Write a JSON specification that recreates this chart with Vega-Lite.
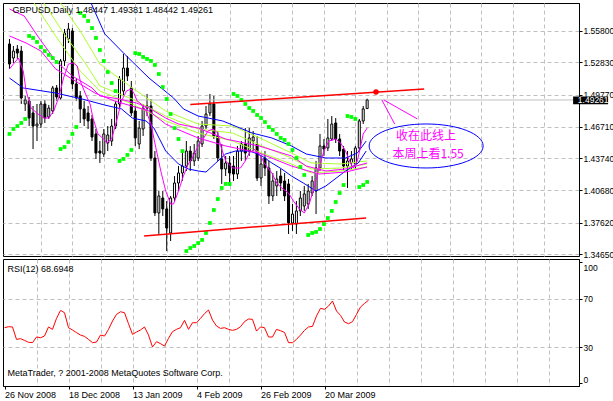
{
"$schema": "https://vega.github.io/schema/vega-lite/v6.json",
"background": "white",
"padding": {"left": 2, "top": 2, "right": 0, "bottom": 0},
"bounds": "flush",
"spacing": 3,
"config": {
 "view": {"stroke": "black", "strokeWidth": 1},
 "axis": {"labelFont": "Liberation Sans", "labelFontSize": 8.5, "labelColor": "black", "tickColor": "black", "domainColor": "black", "gridColor": "#c0c0c0", "gridDash": [4, 3], "title": null, "zindex": 0, "labelOverlap": false, "tickCount": 60},
 "text": {"font": "Liberation Sans"}
},
"resolve": {"scale": {"x": "independent", "y": "independent"}},
"datasets": {
 "one": [{}],
 "candles": [
{"i":0,"o":1.5457,"h":1.5504,"l":1.5220,"c":1.5267},
{"i":1,"o":1.5324,"h":1.5438,"l":1.5277,"c":1.5390},
{"i":2,"o":1.5409,"h":1.5447,"l":1.5315,"c":1.5371},
{"i":3,"o":1.5390,"h":1.5438,"l":1.4888,"c":1.4945},
{"i":4,"o":1.4888,"h":1.4964,"l":1.4822,"c":1.4926},
{"i":5,"o":1.4916,"h":1.4954,"l":1.4679,"c":1.4755},
{"i":6,"o":1.4803,"h":1.4869,"l":1.4461,"c":1.4679},
{"i":7,"o":1.4679,"h":1.4888,"l":1.4537,"c":1.4698},
{"i":8,"o":1.4698,"h":1.4916,"l":1.4660,"c":1.4888},
{"i":9,"o":1.4888,"h":1.4926,"l":1.4708,"c":1.4755},
{"i":10,"o":1.4765,"h":1.4879,"l":1.4746,"c":1.4850},
{"i":11,"o":1.4822,"h":1.5059,"l":1.4793,"c":1.5040},
{"i":12,"o":1.5040,"h":1.5068,"l":1.4916,"c":1.4954},
{"i":13,"o":1.4945,"h":1.5315,"l":1.4926,"c":1.5296},
{"i":14,"o":1.5296,"h":1.5599,"l":1.5248,"c":1.5561},
{"i":15,"o":1.5504,"h":1.5656,"l":1.5466,"c":1.5599},
{"i":16,"o":1.5580,"h":1.5608,"l":1.5030,"c":1.5078},
{"i":17,"o":1.5078,"h":1.5125,"l":1.4916,"c":1.4945},
{"i":18,"o":1.4964,"h":1.5011,"l":1.4708,"c":1.4841},
{"i":19,"o":1.4841,"h":1.4916,"l":1.4679,"c":1.4746},
{"i":20,"o":1.4803,"h":1.4869,"l":1.4651,"c":1.4727},
{"i":21,"o":1.4746,"h":1.4784,"l":1.4537,"c":1.4575},
{"i":22,"o":1.4604,"h":1.4651,"l":1.4367,"c":1.4423},
{"i":23,"o":1.4442,"h":1.4537,"l":1.4329,"c":1.4423},
{"i":24,"o":1.4414,"h":1.4651,"l":1.4386,"c":1.4604},
{"i":25,"o":1.4518,"h":1.4679,"l":1.4442,"c":1.4594},
{"i":26,"o":1.4537,"h":1.4746,"l":1.4490,"c":1.4679},
{"i":27,"o":1.4679,"h":1.4916,"l":1.4651,"c":1.4888},
{"i":28,"o":1.4888,"h":1.5153,"l":1.4841,"c":1.5125},
{"i":29,"o":1.5011,"h":1.5362,"l":1.4964,"c":1.5229},
{"i":30,"o":1.5229,"h":1.5343,"l":1.5106,"c":1.5153},
{"i":31,"o":1.5040,"h":1.5106,"l":1.4774,"c":1.4803},
{"i":32,"o":1.4822,"h":1.4869,"l":1.4490,"c":1.4566},
{"i":33,"o":1.4509,"h":1.4727,"l":1.4461,"c":1.4660},
{"i":34,"o":1.4651,"h":1.4888,"l":1.4585,"c":1.4850},
{"i":35,"o":1.4850,"h":1.4983,"l":1.4774,"c":1.4869},
{"i":36,"o":1.4869,"h":1.4935,"l":1.4348,"c":1.4376},
{"i":37,"o":1.4376,"h":1.4442,"l":1.3826,"c":1.3855},
{"i":38,"o":1.3855,"h":1.4063,"l":1.3656,"c":1.4016},
{"i":39,"o":1.3997,"h":1.4063,"l":1.3826,"c":1.3893},
{"i":40,"o":1.3893,"h":1.3968,"l":1.3494,"c":1.3712},
{"i":41,"o":1.3665,"h":1.4016,"l":1.3589,"c":1.3997},
{"i":42,"o":1.3997,"h":1.4205,"l":1.3968,"c":1.4139},
{"i":43,"o":1.4139,"h":1.4300,"l":1.4063,"c":1.4234},
{"i":44,"o":1.4234,"h":1.4442,"l":1.4158,"c":1.4300},
{"i":45,"o":1.4300,"h":1.4537,"l":1.4253,"c":1.4442},
{"i":46,"o":1.4442,"h":1.4490,"l":1.4253,"c":1.4348},
{"i":47,"o":1.4348,"h":1.4509,"l":1.4300,"c":1.4423},
{"i":48,"o":1.4376,"h":1.4585,"l":1.4348,"c":1.4537},
{"i":49,"o":1.4509,"h":1.4727,"l":1.4480,"c":1.4679},
{"i":50,"o":1.4679,"h":1.4869,"l":1.4651,"c":1.4793},
{"i":51,"o":1.4803,"h":1.4983,"l":1.4774,"c":1.4888},
{"i":52,"o":1.4888,"h":1.4964,"l":1.4556,"c":1.4585},
{"i":53,"o":1.4585,"h":1.4632,"l":1.4348,"c":1.4376},
{"i":54,"o":1.4367,"h":1.4509,"l":1.4130,"c":1.4272},
{"i":55,"o":1.4272,"h":1.4395,"l":1.4205,"c":1.4329},
{"i":56,"o":1.4329,"h":1.4395,"l":1.4111,"c":1.4234},
{"i":57,"o":1.4300,"h":1.4395,"l":1.4158,"c":1.4224},
{"i":58,"o":1.4224,"h":1.4490,"l":1.4177,"c":1.4442},
{"i":59,"o":1.4442,"h":1.4537,"l":1.4348,"c":1.4509},
{"i":60,"o":1.4509,"h":1.4660,"l":1.4348,"c":1.4423},
{"i":61,"o":1.4442,"h":1.4660,"l":1.4395,"c":1.4566},
{"i":62,"o":1.4537,"h":1.4632,"l":1.4442,"c":1.4575},
{"i":63,"o":1.4509,"h":1.4585,"l":1.4158,"c":1.4186},
{"i":64,"o":1.4186,"h":1.4395,"l":1.4111,"c":1.4319},
{"i":65,"o":1.4376,"h":1.4442,"l":1.4205,"c":1.4281},
{"i":66,"o":1.4281,"h":1.4348,"l":1.3940,"c":1.4016},
{"i":67,"o":1.4016,"h":1.4234,"l":1.3968,"c":1.4158},
{"i":68,"o":1.4111,"h":1.4253,"l":1.4016,"c":1.4177},
{"i":69,"o":1.4205,"h":1.4272,"l":1.4063,"c":1.4139},
{"i":70,"o":1.4158,"h":1.4234,"l":1.3968,"c":1.4016},
{"i":71,"o":1.4130,"h":1.4177,"l":1.3656,"c":1.3760},
{"i":72,"o":1.3760,"h":1.3940,"l":1.3684,"c":1.3845},
{"i":73,"o":1.3750,"h":1.3968,"l":1.3656,"c":1.3874},
{"i":74,"o":1.3874,"h":1.4063,"l":1.3826,"c":1.3997},
{"i":75,"o":1.3921,"h":1.4111,"l":1.3874,"c":1.4035},
{"i":76,"o":1.3940,"h":1.4130,"l":1.3893,"c":1.4063},
{"i":77,"o":1.4044,"h":1.4205,"l":1.4016,"c":1.4158},
{"i":78,"o":1.4063,"h":1.4348,"l":1.3845,"c":1.4281},
{"i":79,"o":1.4281,"h":1.4604,"l":1.4253,"c":1.4490},
{"i":80,"o":1.4490,"h":1.4556,"l":1.4395,"c":1.4461},
{"i":81,"o":1.4471,"h":1.4746,"l":1.4442,"c":1.4566},
{"i":82,"o":1.4556,"h":1.4774,"l":1.4537,"c":1.4698},
{"i":83,"o":1.4708,"h":1.4755,"l":1.4518,"c":1.4556},
{"i":84,"o":1.4556,"h":1.4604,"l":1.4395,"c":1.4442},
{"i":85,"o":1.4461,"h":1.4490,"l":1.4253,"c":1.4300},
{"i":86,"o":1.4300,"h":1.4442,"l":1.4092,"c":1.4348},
{"i":87,"o":1.4329,"h":1.4442,"l":1.4272,"c":1.4367},
{"i":88,"o":1.4319,"h":1.4490,"l":1.4272,"c":1.4471},
{"i":89,"o":1.4471,"h":1.4746,"l":1.4442,"c":1.4727},
{"i":90,"o":1.4727,"h":1.4869,"l":1.4698,"c":1.4841},
{"i":91,"o":1.48447,"h":1.49381,"l":1.48442,"c":1.49261}
 ],
 "sar": [
{"i":0,"v":1.4604},{"i":1,"v":1.4651},{"i":2,"v":1.4679},{"i":3,"v":1.4708},{"i":4,"v":1.4746},
{"i":5,"v":1.5533},{"i":6,"v":1.5514},{"i":7,"v":1.5476},{"i":8,"v":1.5428},{"i":9,"v":1.5390},{"i":10,"v":1.5353},{"i":11,"v":1.5324},{"i":12,"v":1.5286},
{"i":13,"v":1.4461},{"i":14,"v":1.4480},{"i":15,"v":1.4528},{"i":16,"v":1.4604},{"i":17,"v":1.4670},
{"i":18,"v":1.5751},{"i":19,"v":1.5722},{"i":20,"v":1.5675},{"i":21,"v":1.5608},{"i":22,"v":1.5514},{"i":23,"v":1.5400},{"i":24,"v":1.5296},{"i":25,"v":1.5191},{"i":26,"v":1.5087},{"i":27,"v":1.5011},
{"i":28,"v":1.4348},{"i":29,"v":1.4367},{"i":30,"v":1.4405},{"i":31,"v":1.4452},
{"i":32,"v":1.5371},{"i":33,"v":1.5362},{"i":34,"v":1.5334},{"i":35,"v":1.5315},{"i":36,"v":1.5296},{"i":37,"v":1.5258},{"i":38,"v":1.5172},{"i":39,"v":1.5049},{"i":40,"v":1.4935},{"i":41,"v":1.4793},{"i":42,"v":1.4660},{"i":43,"v":1.4556},{"i":44,"v":1.4442},
{"i":45,"v":1.3494},{"i":46,"v":1.3523},{"i":47,"v":1.3542},{"i":48,"v":1.3570},{"i":49,"v":1.3599},{"i":50,"v":1.3665},{"i":51,"v":1.3760},{"i":52,"v":1.3883},{"i":53,"v":1.3987},{"i":54,"v":1.4092},{"i":55,"v":1.4130},{"i":56,"v":1.4130},
{"i":57,"v":1.4983},{"i":58,"v":1.4964},{"i":59,"v":1.4926},{"i":60,"v":1.4888},{"i":61,"v":1.4850},{"i":62,"v":1.4822},{"i":63,"v":1.4784},{"i":64,"v":1.4755},{"i":65,"v":1.4717},{"i":66,"v":1.4670},{"i":67,"v":1.4642},{"i":68,"v":1.4604},{"i":69,"v":1.4566},{"i":70,"v":1.4547},{"i":71,"v":1.4509},{"i":72,"v":1.4452},{"i":73,"v":1.4376},{"i":74,"v":1.4291},{"i":75,"v":1.4215},
{"i":76,"v":1.3646},{"i":77,"v":1.3665},{"i":78,"v":1.3675},{"i":79,"v":1.3703},{"i":80,"v":1.3750},{"i":81,"v":1.3807},{"i":82,"v":1.3874},{"i":83,"v":1.3959},{"i":84,"v":1.4044},{"i":85,"v":1.4120},
{"i":86,"v":1.4774},{"i":87,"v":1.4765},{"i":88,"v":1.4746},
{"i":89,"v":1.4101},{"i":90,"v":1.4120},{"i":91,"v":1.4149}
 ],
 "ma": [
{"s":"G1","i":13,"v":1.5845},{"s":"G1","i":18,"v":1.5580},{"s":"G1","i":23,"v":1.5267},{"s":"G1","i":31.25,"v":1.5040},{"s":"G1","i":39.75,"v":1.4822},{"s":"G1","i":48,"v":1.4698},{"s":"G1","i":56.75,"v":1.4679},{"s":"G1","i":64.25,"v":1.4556},{"s":"G1","i":71.75,"v":1.4423},{"s":"G1","i":76.75,"v":1.4329},{"s":"G1","i":84.25,"v":1.4319},{"s":"G1","i":91,"v":1.4348},
{"s":"G2","i":8.75,"v":1.5845},{"s":"G2","i":14.25,"v":1.5533},{"s":"G2","i":19.25,"v":1.5277},{"s":"G2","i":23,"v":1.5059},{"s":"G2","i":31.25,"v":1.4935},{"s":"G2","i":39.75,"v":1.4774},{"s":"G2","i":48,"v":1.4651},{"s":"G2","i":56.75,"v":1.4613},{"s":"G2","i":64.25,"v":1.4490},{"s":"G2","i":71.75,"v":1.4376},{"s":"G2","i":76.75,"v":1.4272},{"s":"G2","i":84.25,"v":1.4281},{"s":"G2","i":91,"v":1.4319},
{"s":"G3","i":6.25,"v":1.5845},{"s":"G3","i":11.75,"v":1.5533},{"s":"G3","i":18,"v":1.5201},{"s":"G3","i":23,"v":1.5011},{"s":"G3","i":31.25,"v":1.4888},{"s":"G3","i":39.75,"v":1.4727},{"s":"G3","i":48,"v":1.4613},{"s":"G3","i":56.75,"v":1.4537},{"s":"G3","i":64.25,"v":1.4423},{"s":"G3","i":71.75,"v":1.4319},{"s":"G3","i":76.75,"v":1.4234},{"s":"G3","i":84.25,"v":1.4253},{"s":"G3","i":91,"v":1.4291},
{"s":"B1","i":20.75,"v":1.5845},{"s":"B1","i":24.25,"v":1.5552},{"s":"B1","i":29.25,"v":1.5362},{"s":"B1","i":35.5,"v":1.5134},{"s":"B1","i":41.75,"v":1.4945},{"s":"B1","i":44.25,"v":1.4841},{"s":"B1","i":48,"v":1.4774},{"s":"B1","i":54.25,"v":1.4727},{"s":"B1","i":61.75,"v":1.4613},{"s":"B1","i":66.75,"v":1.4566},{"s":"B1","i":71.75,"v":1.4490},{"s":"B1","i":75.5,"v":1.4414},{"s":"B1","i":80.5,"v":1.4376},{"s":"B1","i":85.5,"v":1.4376},{"s":"B1","i":88.5,"v":1.4423},{"s":"B1","i":90.75,"v":1.4537},
{"s":"B2","i":0,"v":1.5134},{"s":"B2","i":3.5,"v":1.5040},{"s":"B2","i":11.75,"v":1.4992},{"s":"B2","i":18.5,"v":1.4935},{"s":"B2","i":24.25,"v":1.4878},{"s":"B2","i":28.5,"v":1.4841},{"s":"B2","i":31.25,"v":1.4755},{"s":"B2","i":34.75,"v":1.4727},{"s":"B2","i":36.75,"v":1.4660},{"s":"B2","i":39.75,"v":1.4442},{"s":"B2","i":43,"v":1.4319},{"s":"B2","i":45.5,"v":1.4272},{"s":"B2","i":48,"v":1.4253},{"s":"B2","i":50,"v":1.4243},{"s":"B2","i":52.5,"v":1.4329},{"s":"B2","i":55,"v":1.4414},{"s":"B2","i":57.5,"v":1.4442},{"s":"B2","i":61,"v":1.4442},{"s":"B2","i":62.5,"v":1.4423},{"s":"B2","i":64.25,"v":1.4395},{"s":"B2","i":66.75,"v":1.4329},{"s":"B2","i":69.25,"v":1.4272},{"s":"B2","i":71.75,"v":1.4205},{"s":"B2","i":74.75,"v":1.4139},{"s":"B2","i":78,"v":1.4063},{"s":"B2","i":80.5,"v":1.4111},{"s":"B2","i":85.5,"v":1.4253},{"s":"B2","i":88.75,"v":1.4329},{"s":"B2","i":90.75,"v":1.4442},
{"s":"M2","i":0,"v":1.5789},{"s":"M2","i":3.75,"v":1.5722},{"s":"M2","i":7.5,"v":1.5514},{"s":"M2","i":11.75,"v":1.5296},{"s":"M2","i":16,"v":1.5153},{"s":"M2","i":21,"v":1.5040},{"s":"M2","i":23,"v":1.4964},{"s":"M2","i":28,"v":1.4935},{"s":"M2","i":32.25,"v":1.4898},{"s":"M2","i":35.5,"v":1.4850},{"s":"M2","i":39.75,"v":1.4755},{"s":"M2","i":43,"v":1.4698},{"s":"M2","i":48,"v":1.4660},{"s":"M2","i":55,"v":1.4556},{"s":"M2","i":63.5,"v":1.4490},{"s":"M2","i":71.75,"v":1.4395},{"s":"M2","i":75.5,"v":1.4300},{"s":"M2","i":80.5,"v":1.4253},{"s":"M2","i":85.5,"v":1.4272},{"s":"M2","i":91,"v":1.4329},
{"s":"M3","i":0,"v":1.5533},{"s":"M3","i":4.25,"v":1.5466},{"s":"M3","i":8,"v":1.5390},{"s":"M3","i":11.75,"v":1.5220},{"s":"M3","i":16.75,"v":1.5106},{"s":"M3","i":21.75,"v":1.4992},{"s":"M3","i":26.75,"v":1.4916},{"s":"M3","i":35.5,"v":1.4822},{"s":"M3","i":39.75,"v":1.4698},{"s":"M3","i":43.75,"v":1.4632},{"s":"M3","i":48,"v":1.4566},{"s":"M3","i":55,"v":1.4490},{"s":"M3","i":63.5,"v":1.4423},{"s":"M3","i":71.75,"v":1.4300},{"s":"M3","i":78.75,"v":1.4224},{"s":"M3","i":85.5,"v":1.4243},{"s":"M3","i":91,"v":1.4291},
{"s":"MF","i":0,"v":1.5220},{"s":"MF","i":2.25,"v":1.5324},{"s":"MF","i":3.5,"v":1.5201},{"s":"MF","i":4.25,"v":1.5011},{"s":"MF","i":5.5,"v":1.4850},{"s":"MF","i":7.25,"v":1.4793},{"s":"MF","i":8.75,"v":1.4755},{"s":"MF","i":10,"v":1.4755},{"s":"MF","i":11.25,"v":1.4822},{"s":"MF","i":12.5,"v":1.4945},{"s":"MF","i":13.75,"v":1.5134},{"s":"MF","i":15,"v":1.5267},{"s":"MF","i":16.25,"v":1.5277},{"s":"MF","i":17.25,"v":1.5248},{"s":"MF","i":18,"v":1.5106},{"s":"MF","i":19.25,"v":1.4992},{"s":"MF","i":20.5,"v":1.4888},{"s":"MF","i":21.25,"v":1.4755},{"s":"MF","i":22.5,"v":1.4604},{"s":"MF","i":24,"v":1.4556},{"s":"MF","i":24.75,"v":1.4518},{"s":"MF","i":26,"v":1.4556},{"s":"MF","i":27.25,"v":1.4727},{"s":"MF","i":28.5,"v":1.4916},{"s":"MF","i":29.75,"v":1.5011},{"s":"MF","i":31,"v":1.5030},{"s":"MF","i":31.75,"v":1.4983},{"s":"MF","i":32.5,"v":1.4916},{"s":"MF","i":33.5,"v":1.4888},{"s":"MF","i":34.75,"v":1.4822},{"s":"MF","i":36,"v":1.4698},{"s":"MF","i":37.25,"v":1.4471},{"s":"MF","i":38.5,"v":1.4253},{"s":"MF","i":39.75,"v":1.4063},{"s":"MF","i":41,"v":1.3940},{"s":"MF","i":41.75,"v":1.3940},{"s":"MF","i":43,"v":1.4063},{"s":"MF","i":44.25,"v":1.4205},{"s":"MF","i":45.5,"v":1.4319},{"s":"MF","i":46.75,"v":1.4395},{"s":"MF","i":48,"v":1.4490},{"s":"MF","i":49.25,"v":1.4556},{"s":"MF","i":50.5,"v":1.4632},{"s":"MF","i":51.75,"v":1.4651},{"s":"MF","i":53,"v":1.4613},{"s":"MF","i":53.75,"v":1.4490},{"s":"MF","i":55,"v":1.4348},{"s":"MF","i":56.75,"v":1.4281},{"s":"MF","i":58.75,"v":1.4281},{"s":"MF","i":60,"v":1.4348},{"s":"MF","i":61,"v":1.4423},{"s":"MF","i":62.25,"v":1.4461},{"s":"MF","i":63.5,"v":1.4414},{"s":"MF","i":65,"v":1.4319},{"s":"MF","i":66.75,"v":1.4234},{"s":"MF","i":68,"v":1.4139},{"s":"MF","i":69.25,"v":1.4092},{"s":"MF","i":71,"v":1.4044},{"s":"MF","i":72.25,"v":1.3968},{"s":"MF","i":73.75,"v":1.3893},{"s":"MF","i":75,"v":1.3855},{"s":"MF","i":76.25,"v":1.3940},{"s":"MF","i":77.5,"v":1.4092},{"s":"MF","i":78.75,"v":1.4281},{"s":"MF","i":80,"v":1.4442},{"s":"MF","i":81.25,"v":1.4537},{"s":"MF","i":83,"v":1.4556},{"s":"MF","i":84.25,"v":1.4518},{"s":"MF","i":85.5,"v":1.4442},{"s":"MF","i":86.75,"v":1.4329},{"s":"MF","i":87.5,"v":1.4281},{"s":"MF","i":88.5,"v":1.4348},{"s":"MF","i":89.25,"v":1.4471},{"s":"MF","i":90,"v":1.4604},{"s":"MF","i":91,"v":1.4660}
 ],
 "objects": [
{"s":"trend_up","i":46,"v":1.4883},{"s":"trend_up","i":105.5,"v":1.5030},
{"s":"trend_low","i":34.25,"v":1.3637},{"s":"trend_low","i":90.75,"v":1.3808}
 ],
 "arrows": [
{"s":"a","i":94.75,"v":1.4926},{"s":"a","i":98,"v":1.4698},
{"s":"b","i":95.25,"v":1.4926},{"s":"b","i":103.75,"v":1.4747}
 ],
 "rsi": [
{"i":0,"v":46.0},{"i":1,"v":46.8},{"i":2,"v":46.6},{"i":3,"v":36.3},{"i":4,"v":36.9},{"i":5,"v":35.5},{"i":6,"v":33.9},{"i":7,"v":33.6},{"i":8,"v":38.3},{"i":9,"v":37.7},
{"i":10,"v":39.1},{"i":11,"v":46.6},{"i":12,"v":44.6},{"i":13,"v":53.7},{"i":14,"v":60.3},{"i":15,"v":58.4},{"i":16,"v":46.0},{"i":17,"v":44.1},{"i":18,"v":41.9},{"i":19,"v":39.9},
{"i":20,"v":38.8},{"i":21,"v":36.3},{"i":22,"v":33.6},{"i":23,"v":34.1},{"i":24,"v":39.9},{"i":25,"v":39.1},{"i":26,"v":44.6},{"i":27,"v":51.5},{"i":28,"v":57.0},{"i":29,"v":59.2},
{"i":30,"v":58.4},{"i":31,"v":49.3},{"i":32,"v":40.5},{"i":33,"v":42.4},{"i":34,"v":44.1},{"i":35,"v":46.6},{"i":36,"v":39.9},{"i":37,"v":30.0},{"i":38,"v":34.4},{"i":39,"v":32.8},
{"i":40,"v":30.8},{"i":41,"v":37.2},{"i":42,"v":42.7},{"i":43,"v":44.6},{"i":44,"v":46.0},{"i":45,"v":52.1},{"i":46,"v":44.6},{"i":47,"v":50.1},{"i":48,"v":50.1},{"i":49,"v":53.7},
{"i":50,"v":57.6},{"i":51,"v":60.6},{"i":52,"v":52.3},{"i":53,"v":47.4},{"i":54,"v":45.4},{"i":55,"v":46.0},{"i":56,"v":44.6},{"i":57,"v":43.8},{"i":58,"v":44.6},{"i":59,"v":46.8},
{"i":60,"v":51.0},{"i":61,"v":53.2},{"i":62,"v":52.9},{"i":63,"v":43.2},{"i":64,"v":46.6},{"i":65,"v":46.0},{"i":66,"v":38.3},{"i":67,"v":38.3},{"i":68,"v":44.6},{"i":69,"v":43.5},
{"i":70,"v":42.1},{"i":71,"v":33.6},{"i":72,"v":33.6},{"i":73,"v":36.3},{"i":74,"v":39.9},{"i":75,"v":43.8},{"i":76,"v":46.6},{"i":77,"v":47.1},{"i":78,"v":55.7},{"i":79,"v":62.0},
{"i":80,"v":61.2},{"i":81,"v":63.9},{"i":82,"v":68.1},{"i":83,"v":59.8},{"i":84,"v":56.2},{"i":85,"v":50.7},{"i":86,"v":49.3},{"i":87,"v":51.0},{"i":88,"v":57.0},{"i":89,"v":63.1},
{"i":90,"v":66.1},{"i":91,"v":68.7}
 ]
},
"vconcat": [
 {
  "width": 576,
  "height": 253,
  "layer": [
   {
    "data": {"name": "candles"},
    "mark": {"type": "rule", "color": "black", "strokeWidth": 1},
    "encoding": {
     "x": {"field": "i", "type": "quantitative", "scale": {"domain": [-0.375, 143.625], "nice": false, "zero": false},
       "axis": {"orient": "bottom", "values": [8,16,24,32,40,48,56,64,72,80,88,96,104,112,120,128,136], "tickCount": 60, "labels": false, "ticks": false, "domain": false, "grid": true}},
     "y": {"field": "l", "type": "quantitative", "scale": {"domain": [1.3447, 1.58454], "nice": false, "zero": false},
       "axis": {"orient": "right", "values": [1.558, 1.5283, 1.4977, 1.4671, 1.4374, 1.4068, 1.3762, 1.3465], "tickCount": 60, "format": ".5f", "grid": true, "tickSize": 3, "labelPadding": 1, "domain": true, "labelOverlap": false, "labelBound": false, "labelFlush": false}},
     "y2": {"field": "h"}
    }
   },
   {
    "data": {"name": "one"},
    "mark": {"type": "rule", "color": "#c0c0c0", "strokeWidth": 1},
    "encoding": {"y": {"datum": 1.49261}}
   },
   {
    "data": {"name": "candles"},
    "mark": {"type": "bar", "width": 2, "stroke": "black", "strokeWidth": 1},
    "encoding": {
     "x": {"field": "i", "type": "quantitative"},
     "y": {"field": "o", "type": "quantitative"},
     "y2": {"field": "c"},
     "fill": {"condition": {"test": "datum.c >= datum.o", "value": "white"}, "value": "black"}
    }
   },
   {
    "data": {"name": "ma"},
    "mark": {"type": "line", "strokeWidth": 1, "clip": true},
    "encoding": {
     "x": {"field": "i", "type": "quantitative"},
     "y": {"field": "v", "type": "quantitative"},
     "color": {"field": "s", "type": "nominal", "legend": null,
       "scale": {"domain": ["G1","G2","G3","B1","B2","M2","M3","MF"], "range": ["#adff2f","#adff2f","#adff2f","#0000ff","#0000ff","#ff00ff","#ff00ff","#ff00ff"]}}
    }
   },
   {
    "data": {"name": "sar"},
    "mark": {"type": "square", "size": 14, "color": "#00ff00", "opacity": 1, "filled": true},
    "encoding": {
     "x": {"field": "i", "type": "quantitative"},
     "y": {"field": "v", "type": "quantitative"}
    }
   },
   {
    "data": {"name": "objects"},
    "mark": {"type": "line", "color": "#ff0000", "strokeWidth": 1.5},
    "encoding": {
     "x": {"field": "i", "type": "quantitative"},
     "y": {"field": "v", "type": "quantitative"},
     "detail": {"field": "s"}
    }
   },
   {
    "data": {"name": "one"},
    "mark": {"type": "circle", "color": "#ff0000", "size": 30, "opacity": 1},
    "encoding": {"x": {"datum": 93.25}, "y": {"datum": 1.5002}}
   },
   {
    "data": {"name": "arrows"},
    "mark": {"type": "line", "color": "#ff00ff", "strokeWidth": 1},
    "encoding": {
     "x": {"field": "i", "type": "quantitative"},
     "y": {"field": "v", "type": "quantitative"},
     "detail": {"field": "s"}
    }
   },
   {
    "data": {"name": "one"},
    "mark": {"type": "point", "shape": "M-1,0A1,0.386,0,1,1,1,0A1,0.386,0,1,1,-1,0Z", "size": 12996, "filled": false, "color": "#0000ff", "strokeWidth": 1, "opacity": 1},
    "encoding": {"x": {"datum": 106}, "y": {"datum": 1.4490}}
   },
   {
    "data": {"name": "one"},
    "mark": {"type": "text", "font": "Noto Sans CJK SC", "fontSize": 12, "color": "#ff00ff", "align": "center", "baseline": "middle"},
    "encoding": {"x": {"datum": 106}, "y": {"datum": 1.4585}, "text": {"value": "收在此线上"}}
   },
   {
    "data": {"name": "one"},
    "mark": {"type": "text", "font": "Noto Sans CJK SC", "fontSize": 12, "color": "#ff00ff", "align": "center", "baseline": "middle"},
    "encoding": {"x": {"datum": 106.5}, "y": {"datum": 1.4414}, "text": {"value": "本周上看1.55"}}
   },
   {
    "data": {"name": "one"},
    "mark": {"type": "text", "fontSize": 9, "color": "black", "align": "left", "baseline": "middle"},
    "encoding": {"x": {"datum": 0.75}, "y": {"datum": 1.5779}, "text": {"value": "GBPUSD,Daily  1.48447 1.49381 1.48442 1.49261"}}
   },
   {
    "data": {"name": "one"},
    "mark": {"type": "rect", "color": "black"},
    "encoding": {"x": {"datum": 143.4}, "x2": {"datum": 152.3}, "y": {"datum": 1.4959}, "y2": {"datum": 1.4885}}
   },
   {
    "data": {"name": "one"},
    "mark": {"type": "text", "fontSize": 8.5, "color": "white", "align": "left", "baseline": "middle"},
    "encoding": {"x": {"datum": 144.6}, "y": {"datum": 1.4922}, "text": {"value": "1.49261"}}
   }
  ]
 },
 {
  "width": 576,
  "height": 127,
  "layer": [
   {
    "data": {"name": "rsi"},
    "mark": {"type": "line", "color": "#ff0000", "strokeWidth": 1},
    "encoding": {
     "x": {"field": "i", "type": "quantitative", "scale": {"domain": [-0.375, 143.625], "nice": false, "zero": false},
       "axis": {"orient": "bottom", "values": [0,8,16,24,32,40,48,56,64,72,80,88,96,104,112,120,128,136], "tickCount": 60,
         "labelExpr": "datum.value==0?'26 Nov 2008':datum.value==16?'18 Dec 2008':datum.value==32?'13 Jan 2009':datum.value==48?'4 Feb 2009':datum.value==64?'26 Feb 2009':datum.value==80?'20 Mar 2009':''",
         "labelAlign": "left", "labelFlush": false, "labelOverlap": false, "labelPadding": 1, "tickSize": 3, "domain": true, "grid": true, "labelFontSize": 9,
         "gridOpacity": {"condition": {"test": "datum.value == 0", "value": 0}, "value": 1},
         "tickOpacity": {"condition": {"test": "datum.value % 16 == 0 && datum.value <= 80", "value": 1}, "value": 0}}},
     "y": {"field": "v", "type": "quantitative", "scale": {"domain": [-2.28, 102.86], "nice": false, "zero": false},
       "axis": {"orient": "right", "values": [0, 30, 70, 100], "tickCount": 60, "tickSize": 3, "labelPadding": 1, "grid": true, "labelOverlap": false,
         "gridOpacity": {"condition": {"test": "datum.value == 30 || datum.value == 70", "value": 1}, "value": 0},
         "labelOffset": {"condition": [{"test": "datum.value == 100", "value": 5}, {"test": "datum.value == 0", "value": -4}], "value": 0}}}
    }
   },
   {
    "data": {"name": "one"},
    "mark": {"type": "text", "fontSize": 9, "color": "black", "align": "left", "baseline": "middle"},
    "encoding": {"x": {"datum": 0.75}, "y": {"datum": 94.6}, "text": {"value": "RSI(12) 68.6948"}}
   },
   {
    "data": {"name": "one"},
    "mark": {"type": "text", "fontSize": 9, "color": "black", "align": "left", "baseline": "middle"},
    "encoding": {"x": {"datum": 0.75}, "y": {"datum": 8.5}, "text": {"value": "MetaTrader, ? 2001-2008 MetaQuotes Software Corp."}}
   }
  ]
 }
]
}
